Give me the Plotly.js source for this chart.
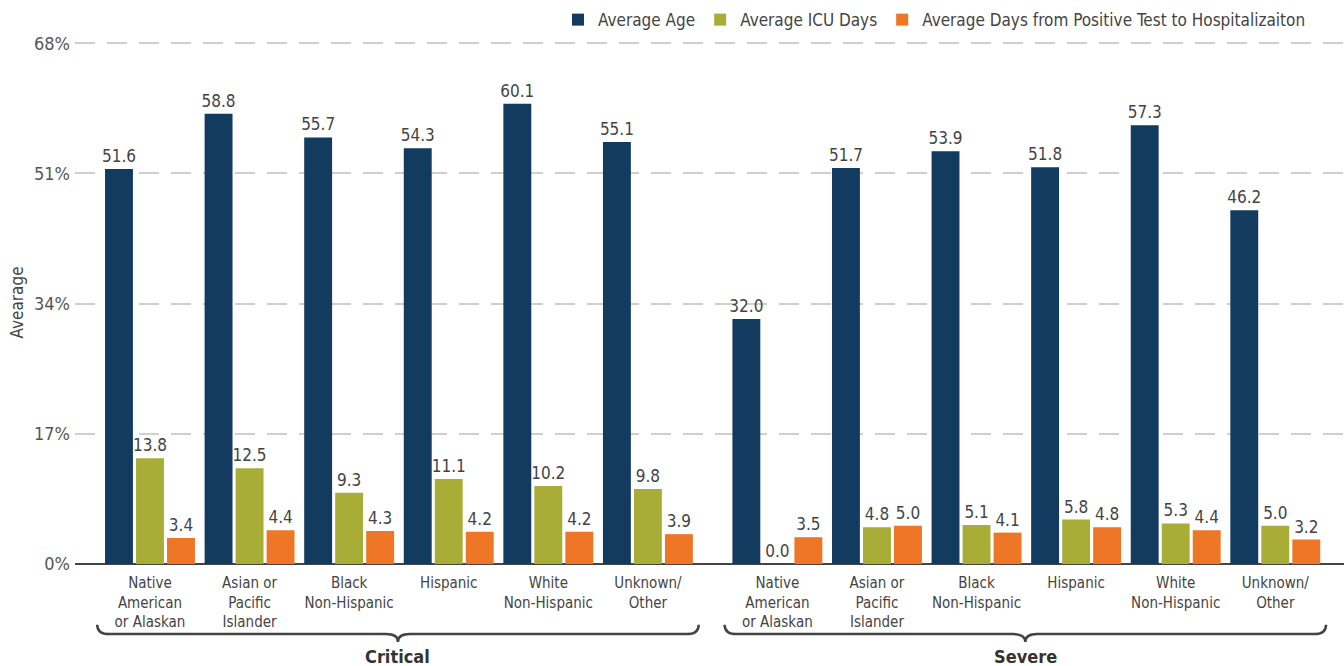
<!DOCTYPE html>
<html>
<head>
<meta charset="utf-8">
<script src="https://cdn.plot.ly/plotly-3.0.1.min.js"></script>
<style>html,body{margin:0;padding:0;background:#fff;}#chart{width:1344px;height:666px;}</style>
</head>
<body>
<div id="chart"></div>
<script>
const categories = ['Native<br>American<br>or Alaskan', 'Asian or<br>Pacific<br>Islander', 'Black<br>Non-Hispanic', 'Hispanic', 'White<br>Non-Hispanic', 'Unknown/<br>Other'];
const groups = ['Critical', 'Severe'];
const seriesNames = ['Average Age', 'Average ICU Days', 'Average Days from Positive Test to Hospitalizaiton'];
const criticalAge = [51.6, 58.8, 55.7, 54.3, 60.1, 55.1];
const criticalICU = [13.8, 12.5, 9.3, 11.1, 10.2, 9.8];
const criticalDays = [3.4, 4.4, 4.3, 4.2, 4.2, 3.9];
const severeAge = [32.0, 51.7, 53.9, 51.8, 57.3, 46.2];
const severeICU = [0.0, 4.8, 5.1, 5.8, 5.3, 5.0];
const severeDays = [3.5, 5.0, 4.1, 4.8, 4.4, 3.2];
const yTicks = [0, 17, 34, 51, 68];

const colors = ['#123b5f', '#a8ad37', '#ee7626'];
const FONT = '"DejaVu Sans Condensed", "Liberation Sans Narrow", Roboto, sans-serif';
const TXT = '#444444';
const groupGap = 0.3;
const groupOffset = categories.length + groupGap;

const xPos = [];
const tickText = [];
groups.forEach((g, gi) => categories.forEach((c, ci) => { xPos.push(ci + gi * groupOffset); tickText.push(c); }));

const seriesValues = [
  criticalAge.concat(severeAge),
  criticalICU.concat(severeICU),
  criticalDays.concat(severeDays)
];

const traces = seriesNames.map((name, si) => ({
  type: 'bar',
  name: name,
  x: xPos,
  y: seriesValues[si],
  text: seriesValues[si].map(v => v.toFixed(1)),
  textposition: 'outside',
  constraintext: 'none',
  textfont: {family: FONT, size: 17, color: TXT},
  cliponaxis: false,
  marker: {color: colors[si], line: {width: 0}},
  hoverinfo: 'skip'
}));

// Curly braces + group labels
function bracePath(x0, x1, yTop, yMid, yBot, r) {
  const xc = (x0 + x1) / 2;
  return `M ${x0} ${yTop} Q ${x0} ${yMid} ${x0 + r} ${yMid} L ${xc - r} ${yMid} Q ${xc} ${yMid} ${xc} ${yBot} Q ${xc} ${yMid} ${xc + r} ${yMid} L ${x1 - r} ${yMid} Q ${x1} ${yMid} ${x1} ${yTop}`;
}
const shapes = [];
const annotations = [];
groups.forEach((g, gi) => {
  const x0 = gi * groupOffset - 0.53;
  const x1 = gi * groupOffset + categories.length - 0.49;
  shapes.push({
    type: 'path', xref: 'x', yref: 'paper',
    path: bracePath(x0, x1, -0.116, -0.134, -0.149, 0.12),
    line: {color: '#444', width: 2.5}
  });
  annotations.push({
    xref: 'x', yref: 'paper', x: (x0 + x1) / 2, y: -0.177,
    text: '<b>' + g + '</b>', showarrow: false, yanchor: 'middle',
    font: {family: FONT, size: 18, color: '#333'}
  });
});

const layout = {
  width: 1344, height: 666,
  margin: {l: 75, r: 0, t: 41, b: 102},
  paper_bgcolor: '#fff', plot_bgcolor: '#fff',
  font: {family: FONT, color: TXT},
  barmode: 'group',
  bargap: 0.066,
  bargroupgap: 0.1,
  showlegend: true,
  legend: {
    orientation: 'h', x: 0.974, xanchor: 'right', y: 1.04, yanchor: 'middle',
    font: {family: FONT, size: 17, color: TXT},
    itemclick: false, itemdoubleclick: false
  },
  xaxis: {
    type: 'linear',
    range: [-0.753, 11.99],
    tickvals: xPos, ticktext: tickText,
    tickfont: {family: FONT, size: 15, color: TXT},
    ticks: '', showgrid: false, zeroline: false, showline: false,
    ticklabelstandoff: 8,
    fixedrange: true
  },
  yaxis: {
    range: [0, 68.3],
    tickvals: yTicks, ticktext: yTicks.map(v => v + '%'),
    tickfont: {family: FONT, size: 18, color: '#555'},
    showgrid: true, gridcolor: '#cfcfcf', gridwidth: 2, griddash: '20px,12px',
    zeroline: true, zerolinecolor: '#444', zerolinewidth: 2,
    ticks: '', ticklabelstandoff: 4,
    title: {text: 'Avearage', font: {family: FONT, size: 17, color: TXT}, standoff: 6},
    fixedrange: true
  },
  shapes: shapes,
  annotations: annotations
};

Plotly.newPlot('chart', traces, layout, {displayModeBar: false, staticPlot: true});
</script>
</body>
</html>
